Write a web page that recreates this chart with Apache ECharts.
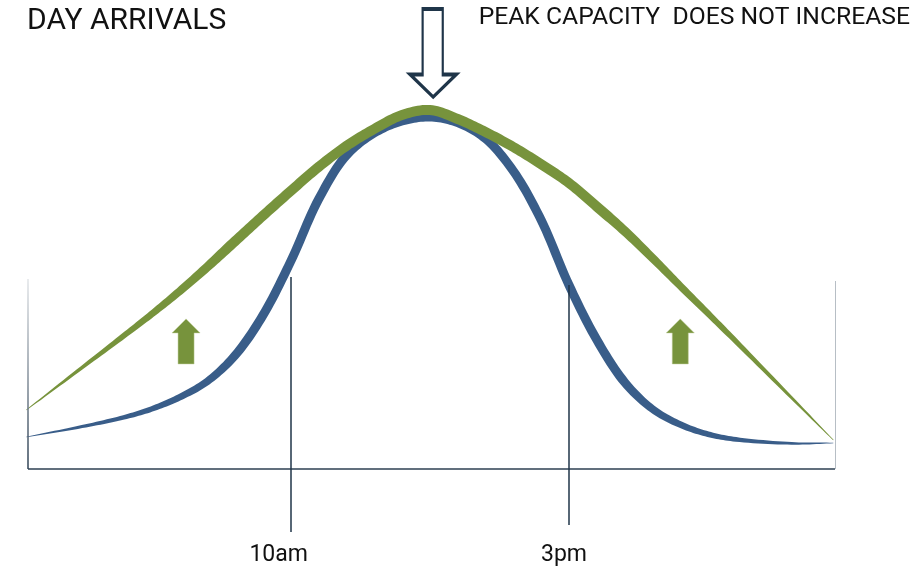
<!DOCTYPE html>
<html>
<head>
<meta charset="utf-8">
<style>
html, body { margin: 0; padding: 0; background: #fff; }
#main { width: 916px; height: 575px; }
</style>
<script src="https://cdn.jsdelivr.net/npm/echarts@6/dist/echarts.min.js"></script>
</head>
<body>
<div id="main"></div>
<script>
// hour of day where both curves were read
var hours = [5.25, 6.25, 7, 7.5, 8, 8.5, 9, 9.5, 10, 10.5, 11, 11.5, 12, 12.5, 13, 13.5, 14, 14.5, 15, 15.5, 16, 16.5, 17, 17.5, 18, 19, 19.75];
// green: spread-out arrivals (same peak)
var spreadArrivals = [14.75, 25.35, 33.3, 38.7, 44.4, 50.5, 56.95, 63.3, 69.5, 75.5, 80.75, 85, 88.5, 89.75, 87.5, 84.25, 80.5, 76.2, 71.5, 65.6, 59.5, 52.75, 45.75, 38.85, 31.9, 17.8, 7.25];
// blue: current arrivals
var currentArrivals = [8, 10.6, 12.9, 15, 17.9, 21.9, 28.4, 38.4, 51.9, 67.4, 78.4, 84, 87, 88, 86.6, 82.6, 74.5, 62.25, 46, 32.3, 21.7, 15, 11.1, 8.7, 7.4, 6.4, 6.5];

var tickHours = [10, 15];
var tickLabels = ['10am', '3pm'];

// annotation arrows (hour, value)
var upArrows = [[8.12, 31.9], [17.0, 31.9]];
var peakArrow = [[12.56, 104]];

var green = '#77933c';
var blue = '#395d89';
var navy = '#1f3549';

function pairs(ys) {
  return hours.map(function (h, i) { return [h, ys[i]]; });
}

function dist(a, b) {
  var dx = b[0] - a[0], dy = b[1] - a[1];
  return Math.sqrt(dx * dx + dy * dy);
}

function lerp(a, b, ta, tb, t) {
  var k = (t - ta) / (tb - ta);
  return [a[0] + (b[0] - a[0]) * k, a[1] + (b[1] - a[1]) * k];
}

// centripetal catmull-rom through the pixel points
function smoothPath(pts, steps) {
  var n = pts.length;
  var ext = [[2 * pts[0][0] - pts[1][0], 2 * pts[0][1] - pts[1][1]]]
    .concat(pts, [[2 * pts[n - 1][0] - pts[n - 2][0], 2 * pts[n - 1][1] - pts[n - 2][1]]]);
  var out = [pts[0]];
  for (var i = 1; i < ext.length - 2; i++) {
    var p0 = ext[i - 1], p1 = ext[i], p2 = ext[i + 1], p3 = ext[i + 2];
    var t0 = 0;
    var t1 = t0 + Math.pow(dist(p0, p1), 0.5);
    var t2 = t1 + Math.pow(dist(p1, p2), 0.5);
    var t3 = t2 + Math.pow(dist(p2, p3), 0.5);
    for (var s = 1; s <= steps; s++) {
      var t = t1 + (t2 - t1) * s / steps;
      var a1 = lerp(p0, p1, t0, t1, t), a2 = lerp(p1, p2, t1, t2, t), a3 = lerp(p2, p3, t2, t3, t);
      var b1 = lerp(a1, a2, t0, t2, t), b2 = lerp(a2, a3, t1, t3, t);
      out.push(lerp(b1, b2, t1, t2, t));
    }
  }
  return out;
}

// a line that tapers to a point at both ends
function taperedLine(ys, color, maxW, rampL, rampR) {
  return function (params, api) {
    if (params.dataIndex !== 0) return null;
    var pts = pairs(ys).map(function (d) { return api.coord(d); });
    var line = smoothPath(pts, 12);
    var len = [0];
    for (var i = 1; i < line.length; i++) len.push(len[i - 1] + dist(line[i - 1], line[i]));
    var total = len[len.length - 1];
    var upper = [], lower = [];
    for (var j = 0; j < line.length; j++) {
      var a = line[Math.max(j - 1, 0)], b = line[Math.min(j + 1, line.length - 1)];
      var d = dist(a, b) || 1;
      var nx = -(b[1] - a[1]) / d, ny = (b[0] - a[0]) / d;
      var k = Math.max(0, Math.min(1, len[j] / rampL, (total - len[j]) / rampR));
      var w = (0.6 + (maxW - 0.6) * Math.pow(k, 0.85)) / 2;
      upper.push([line[j][0] + nx * w, line[j][1] + ny * w]);
      lower.push([line[j][0] - nx * w, line[j][1] - ny * w]);
    }
    return {
      type: 'polygon',
      shape: { points: upper.concat(lower.reverse()) },
      style: { fill: color }
    };
  };
}

var myChart = echarts.init(document.getElementById('main'));

myChart.setOption({
  animation: false,
  title: [
    {
      text: 'DAY ARRIVALS',
      left: 27, top: 6, padding: 0,
      textStyle: { fontFamily: 'Roboto', fontSize: 30, fontWeight: 'normal', color: '#111' }
    },
    {
      text: 'PEAK CAPACITY  DOES NOT INCREASE',
      right: 6, top: 5, padding: 0,
      textStyle: { fontFamily: 'Roboto', fontSize: 24.7, fontWeight: 'normal', color: '#111' }
    }
  ],
  grid: { left: 28, right: 81, top: 13, bottom: 42 },
  xAxis: {
    type: 'value',
    min: 5.28,
    max: 19.78,
    axisLine: { show: false },
    axisTick: { show: false },
    splitLine: { show: false },
    axisLabel: {
      customValues: tickHours,
      margin: 11,
      formatter: function (v) {
        var i = tickHours.indexOf(v);
        return i === 0 ? '{a|' + tickLabels[i] + '}' : '{b|' + tickLabels[i] + '}';
      },
      rich: {
        a: { fontFamily: 'Roboto', fontSize: 23, color: '#111', padding: [0, 24, 0, 0] },
        b: { fontFamily: 'Roboto', fontSize: 23, color: '#111', padding: [0, 10, 0, 0] }
      }
    }
  },
  yAxis: {
    type: 'value',
    min: -16,
    max: 114,
    show: false
  },
  series: [
    {
      name: 'current',
      type: 'custom',
      coordinateSystem: 'cartesian2d',
      encode: { x: 0, y: 1 },
      data: pairs(currentArrivals),
      renderItem: taperedLine(currentArrivals, blue, 9, 240, 230),
      silent: true,
      z: 2
    },
    {
      name: 'spread',
      type: 'custom',
      coordinateSystem: 'cartesian2d',
      encode: { x: 0, y: 1 },
      data: pairs(spreadArrivals),
      renderItem: taperedLine(spreadArrivals, green, 10, 260, 320),
      silent: true,
      z: 3
    },
    {
      name: 'arrows',
      type: 'scatter',
      clip: false,
      silent: true,
      z: 4,
      data: upArrows.map(function (p) {
        return {
          value: p,
          symbol: 'path://M6,45 L6,14 L0,14 L14,0 L28,14 L22,14 L22,45 Z',
          symbolSize: [28, 45],
          itemStyle: { color: green, opacity: 1, borderColor: '#b9c98f', borderWidth: 0.5 }
        };
      }).concat(peakArrow.map(function (p) {
        return {
          value: p,
          symbol: 'path://M13,0 L34,0 L34,67 L48,67 L24,90 L0,67 L13,67 Z',
          symbolSize: [46, 88],
          itemStyle: { color: '#fff', opacity: 1, borderColor: navy, borderWidth: 3 }
        };
      })),
      markLine: {
        silent: true,
        symbol: ['none', 'none'],
        label: { show: false },
        data: [
          // base line
          [{ coord: [5.28, 0], lineStyle: { color: '#2c3f52', width: 1.5, type: 'solid' } }, { coord: [19.78, 0] }],
          // left edge, fading upward
          [{
            coord: [5.28, 0],
            lineStyle: {
              width: 1.5, type: 'solid',
              color: { type: 'linear', x: 0, y: 0, x2: 0, y2: 1, colorStops: [{ offset: 0, color: '#e4e7ea' }, { offset: 1, color: '#2c3f52' }] }
            }
          }, { coord: [5.28, 47.5] }],
          // right edge
          [{ coord: [19.78, 0], lineStyle: { color: '#b7bec5', width: 1, type: 'solid' } }, { coord: [19.78, 47] }],
          // 10am and 3pm markers
          [{ coord: [10, -15.75], lineStyle: { color: navy, width: 1.5, type: 'solid' } }, { coord: [10, 48] }],
          [{ coord: [15, -14], lineStyle: { color: navy, width: 1.5, type: 'solid' } }, { coord: [15, 46] }]
        ]
      }
    }
  ]
});
</script>
</body>
</html>
